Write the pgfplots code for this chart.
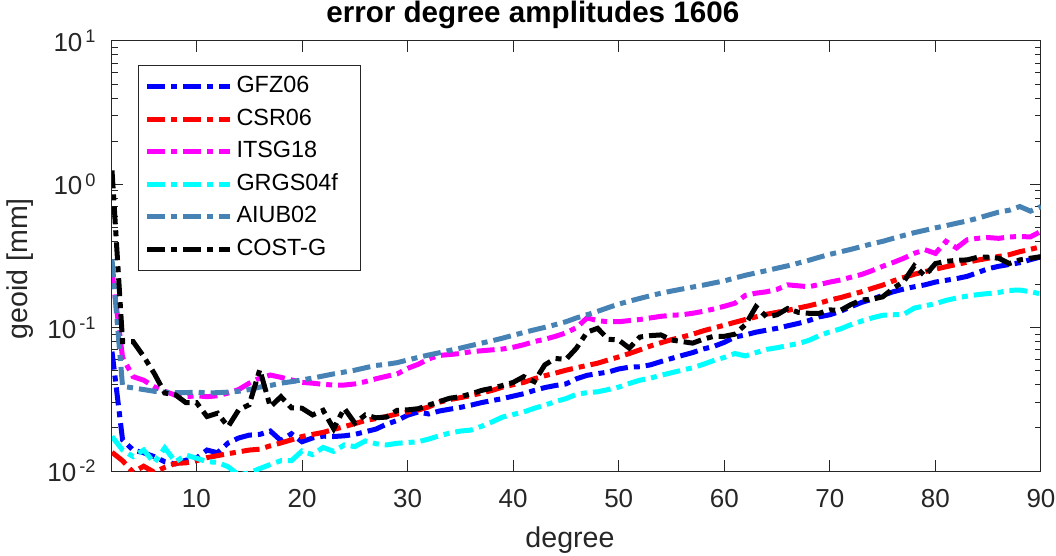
\documentclass[border=0pt]{standalone}
\usepackage{fontspec}
\setmainfont{Liberation Sans}
\usepackage{pgfplots}
\usepackage{pgfplotstable}
\pgfplotsset{compat=1.18}

\definecolor{axgray}{RGB}{38,38,38}
\definecolor{gfzc}{rgb}{0,0,1}
\definecolor{csrc}{rgb}{1,0,0}
\definecolor{itsgc}{rgb}{1,0,1}
\definecolor{grgsc}{rgb}{0,1,1}
\definecolor{aiubc}{RGB}{70,130,180}

% error degree amplitudes (geoid, mm) per degree
\pgfplotstableread{
deg gfz csr itsg grgs aiub cost
2 0.068 0.0135 0.25 0.0174 0.30 1.25
3 0.0165 0.0118 0.062 0.0140 0.039 0.080
4 0.0140 0.0098 0.0455 0.0126 0.038 0.080
5 0.0134 0.0108 0.043 0.0140 0.037 0.063
6 0.0126 0.0098 0.0387 0.0114 0.036 0.048
7 0.0116 0.0106 0.036 0.0145 0.0355 0.035
8 0.0112 0.0113 0.0338 0.0116 0.0352 0.034
9 0.0119 0.0114 0.0330 0.0129 0.0352 0.030
10 0.0123 0.0118 0.0335 0.0123 0.0355 0.030
11 0.0140 0.0124 0.0330 0.0116 0.0350 0.024
12 0.0134 0.0128 0.0335 0.0115 0.0352 0.0253
13 0.0157 0.0132 0.0350 0.0107 0.0355 0.0204
14 0.0170 0.0136 0.0370 0.0094 0.0360 0.0267
15 0.0178 0.0140 0.0410 0.0097 0.0370 0.0290
16 0.0180 0.0142 0.0445 0.0104 0.0385 0.0510
17 0.0190 0.0150 0.0467 0.0111 0.0395 0.0280
18 0.0163 0.0157 0.0450 0.0118 0.0410 0.0330
19 0.0182 0.0165 0.0432 0.0118 0.0420 0.0276
20 0.0160 0.0174 0.0415 0.0138 0.0432 0.0274
21 0.0170 0.0180 0.0410 0.0130 0.0445 0.0246
22 0.0175 0.0186 0.0402 0.0146 0.0460 0.0265
23 0.0174 0.0195 0.0398 0.0137 0.0476 0.0197
24 0.0176 0.0204 0.0398 0.0152 0.0490 0.0274
25 0.0180 0.0214 0.0405 0.0148 0.0505 0.0216
26 0.0188 0.0225 0.0420 0.0162 0.0525 0.0246
27 0.0196 0.0232 0.0440 0.0155 0.0545 0.0235
28 0.0212 0.0240 0.0458 0.0152 0.0555 0.0238
29 0.0225 0.0250 0.0475 0.0156 0.0570 0.0265
30 0.0245 0.0258 0.0520 0.0158 0.0595 0.0267
31 0.0258 0.0266 0.0555 0.0160 0.0620 0.0272
32 0.0250 0.0280 0.0605 0.0167 0.0645 0.0288
33 0.0262 0.0302 0.0640 0.0176 0.0668 0.0305
34 0.0270 0.0315 0.0650 0.0184 0.0695 0.0322
35 0.0278 0.0325 0.0660 0.0190 0.0720 0.0330
36 0.0288 0.0336 0.0680 0.0193 0.0750 0.0345
37 0.0300 0.0350 0.0690 0.0205 0.0780 0.0365
38 0.0310 0.0365 0.0700 0.0220 0.0810 0.0378
39 0.0320 0.0385 0.0710 0.0238 0.0845 0.0395
40 0.0333 0.0400 0.0730 0.0248 0.0885 0.0415
41 0.0346 0.0415 0.0760 0.0258 0.0925 0.0455
42 0.0365 0.0440 0.0800 0.0274 0.0965 0.0420
43 0.0382 0.0462 0.0830 0.0288 0.1005 0.0550
44 0.0395 0.0482 0.0870 0.0305 0.1050 0.0610
45 0.0405 0.0505 0.0920 0.0320 0.1100 0.0600
46 0.0440 0.0525 0.1000 0.0343 0.1170 0.0720
47 0.0465 0.0545 0.1170 0.0352 0.1230 0.0930
48 0.0478 0.0565 0.1120 0.0357 0.1300 0.0990
49 0.0490 0.0595 0.1100 0.0370 0.1380 0.0830
50 0.0515 0.0625 0.1100 0.0385 0.1460 0.0820
51 0.0530 0.0660 0.1120 0.0408 0.1530 0.0720
52 0.0534 0.0700 0.1140 0.0430 0.1600 0.0860
53 0.0550 0.0745 0.1170 0.0445 0.1670 0.0880
54 0.0580 0.0785 0.1200 0.0465 0.1740 0.0890
55 0.0610 0.0825 0.1220 0.0485 0.1800 0.0820
56 0.0640 0.0860 0.1230 0.0505 0.1860 0.0800
57 0.0670 0.0900 0.1260 0.0525 0.1920 0.0780
58 0.0710 0.0950 0.1300 0.0555 0.1980 0.0830
59 0.0740 0.0995 0.1350 0.0590 0.2050 0.0870
60 0.0790 0.1040 0.1410 0.0620 0.2120 0.0870
61 0.0860 0.1090 0.1480 0.0660 0.2220 0.0900
62 0.0890 0.1140 0.1680 0.0635 0.2320 0.1050
63 0.0930 0.1190 0.1740 0.0670 0.2410 0.1400
64 0.0960 0.1240 0.1780 0.0705 0.2500 0.1190
65 0.0990 0.1280 0.1850 0.0725 0.2600 0.1230
66 0.1030 0.1320 0.1990 0.0750 0.2700 0.1360
67 0.1070 0.1370 0.1960 0.0775 0.2820 0.1280
68 0.1120 0.1420 0.1930 0.0815 0.2950 0.1260
69 0.1190 0.1480 0.2000 0.0880 0.3100 0.1260
70 0.1230 0.1560 0.2080 0.0935 0.3250 0.1330
71 0.1300 0.1620 0.2150 0.0980 0.3380 0.1320
72 0.1400 0.1700 0.2250 0.1050 0.3520 0.1450
73 0.1500 0.1780 0.2350 0.1110 0.3680 0.1560
74 0.1580 0.1880 0.2500 0.1170 0.3850 0.1580
75 0.1680 0.1980 0.2680 0.1220 0.4000 0.1640
76 0.1780 0.2120 0.2850 0.1230 0.4200 0.1880
77 0.1860 0.2240 0.3050 0.1240 0.4400 0.2100
78 0.1930 0.2360 0.3300 0.1370 0.4600 0.2700
79 0.1990 0.2460 0.3500 0.1420 0.4780 0.2300
80 0.2080 0.2560 0.3300 0.1470 0.4970 0.2800
81 0.2140 0.2660 0.4000 0.1550 0.5150 0.2900
82 0.2200 0.2760 0.3600 0.1610 0.5350 0.2950
83 0.2280 0.2860 0.4100 0.1660 0.5550 0.2970
84 0.2420 0.2960 0.4200 0.1700 0.5800 0.3100
85 0.2580 0.3050 0.4250 0.1730 0.6100 0.3100
86 0.2680 0.3140 0.4200 0.1760 0.6400 0.3050
87 0.2760 0.3230 0.4300 0.1820 0.6600 0.2800
88 0.2840 0.3390 0.4320 0.1830 0.7000 0.2970
89 0.2980 0.3520 0.4300 0.1780 0.6500 0.3050
90 0.3120 0.3670 0.4700 0.1720 0.7000 0.3130
}\degtable

\newcommand{\legtxt}[1]{\makebox[57pt][l]{#1}}

\begin{document}
\begin{tikzpicture}
\useasboundingbox (-56pt,-42.5pt) rectangle (472pt,235.5pt);
\begin{axis}[
    width=464.5pt, height=215pt, scale only axis,
    at={(0,0)}, anchor=south west,
    ymode=log,
    xmin=2, xmax=90, ymin=0.01, ymax=10,
    xtick={10,20,...,90},
    ytick={0.01,0.1,1,10},
    yticklabels={10\textsuperscript{\,-2},10\textsuperscript{\,-1},10\textsuperscript{\,0},10\textsuperscript{\,1}},
    tick align=inside,
    major tick length=5.5pt, minor tick length=3pt,
    axis line style={axgray, line width=0.5pt},
    every tick/.style={axgray, line width=0.5pt},
    /pgf/number format/assume math mode=true,
    tick label style={font=\fontsize{13}{13}\selectfont, text=axgray},
    xticklabel style={anchor=base, yshift=-18pt},
    yticklabel style={anchor=east, inner sep=0pt, xshift=-7.5pt},
    xlabel={degree}, ylabel={geoid [mm]},
    label style={font=\fontsize{14.3}{14.3}\selectfont, text=axgray},
    xlabel style={at={(axis description cs:0.493,0)}, anchor=base, yshift=-38pt},
    ylabel style={at={(axis description cs:-0.099,0.47)}, anchor=center},
    title={error degree amplitudes 1606},
    every axis title/.style={font=\bfseries\fontsize{14.8}{14.8}\selectfont, text=black,
        at={(axis description cs:0.453,1)}, anchor=base, yshift=9pt},
    legend style={at={(axis description cs:0.028,0.944)}, anchor=north west,
        font=\fontsize{11.7}{11.7}\selectfont, draw=axgray, line width=0.5pt,
        inner xsep=3pt, inner ysep=3pt, row sep=1.3pt,
        nodes={text height=8.5pt, text depth=2.5pt, inner sep=2pt}},
    legend cell align=left,
    legend image code/.code={\draw[#1] (0pt,0pt) -- (41.5pt,0pt);},
    every axis plot/.append style={line width=2.5pt,
        dash pattern=on 9pt off 3pt on 3pt off 3pt},
]
\addplot[gfzc] table[x=deg, y=gfz] {\degtable};
\addlegendentry{\legtxt{GFZ06}}
\addplot[csrc] table[x=deg, y=csr] {\degtable};
\addlegendentry{\legtxt{CSR06}}
\addplot[itsgc] table[x=deg, y=itsg] {\degtable};
\addlegendentry{\legtxt{ITSG18}}
\addplot[grgsc] table[x=deg, y=grgs] {\degtable};
\addlegendentry{\legtxt{GRGS04f}}
\addplot[aiubc] table[x=deg, y=aiub] {\degtable};
\addlegendentry{\legtxt{AIUB02}}
\addplot[black] table[x=deg, y=cost] {\degtable};
\addlegendentry{\legtxt{COST-G}}
\end{axis}
\end{tikzpicture}
\end{document}
